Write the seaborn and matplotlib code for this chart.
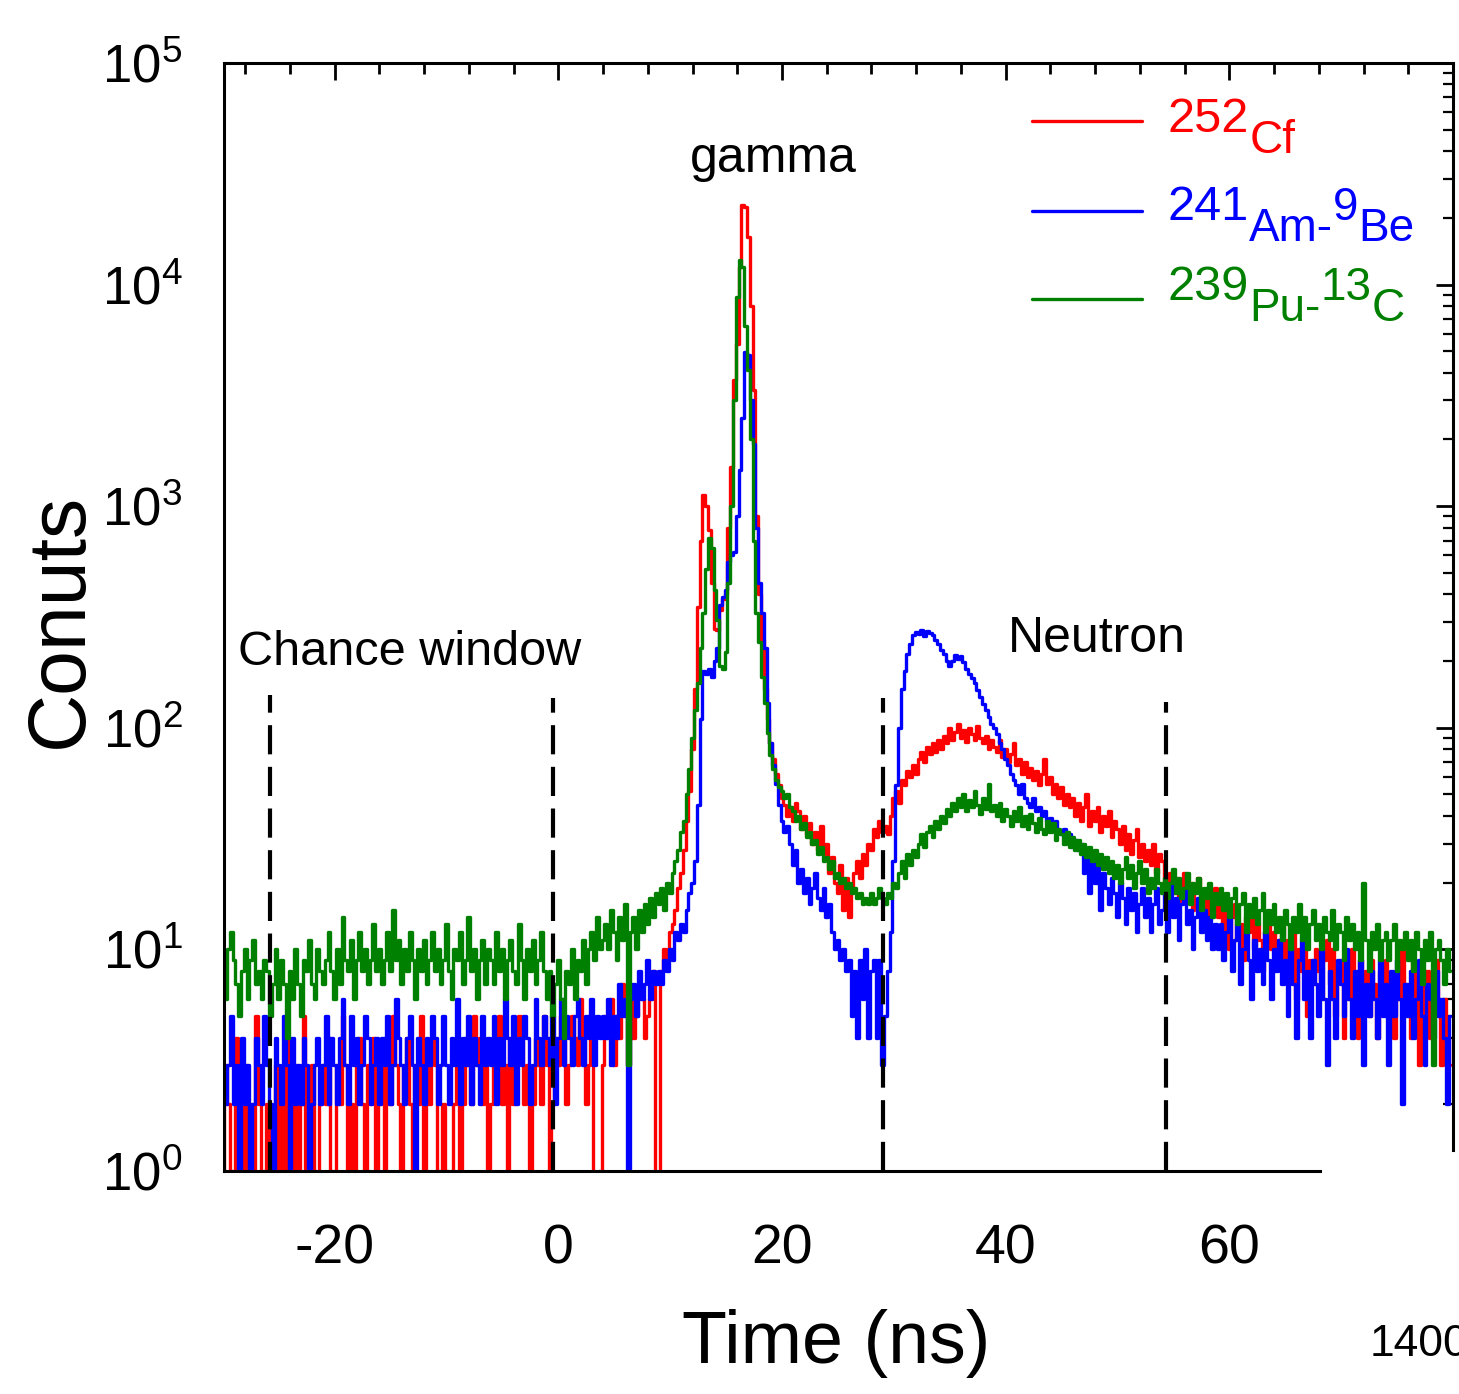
import numpy as np
import pandas as pd
import seaborn as sns
import matplotlib.pyplot as plt
from matplotlib import font_manager
from matplotlib.ticker import FixedLocator, LogLocator, NullFormatter

# datos: cuentas por canal de tiempo (0.25 ns)
t = np.arange(-31, 80, 0.25)

cf252 = [
    3, 0, 2, 1, 0, 3, 2, 1, 0, 4, 2, 1, 3, 0, 2, 1, 5, 2, 0, 1,
    2, 0, 1, 3, 0, 2, 1, 4, 2, 0, 3, 1, 2, 5, 0, 2, 3, 1, 0, 2,
    3, 2, 4, 1, 0, 3, 2, 5, 3, 1, 2, 0, 3, 4, 2, 1, 3, 2, 4, 1,
    2, 3, 1, 4, 2, 5, 3, 2, 1, 3, 4, 2, 0, 3, 2, 5, 1, 3, 2, 4,
    3, 1, 0, 2, 1, 0, 1, 2, 3, 1, 2, 4, 3, 2, 5, 3, 4, 2, 3, 1,
    2, 4, 3, 5, 2, 3, 1, 4, 2, 3, 5, 4, 2, 3, 1, 2, 4, 3, 2, 5,
    3, 0, 2, 4, 3, 5, 4, 2, 3, 5, 4, 3, 6, 4, 2, 3, 4, 0, 0, 1,
    3, 5, 4, 6, 3, 5, 4, 7, 5, 3, 6, 4, 5, 7, 6, 4, 5, 6, 8, 0,
    0, 8, 10, 9, 12, 13, 15, 19, 22, 28, 38, 52, 80, 150, 350, 700, 1120, 1000, 780, 450,
    280, 275, 340, 380, 400, 800, 1500, 3700, 5400, 12000, 22800, 22500, 16400, 8000, 3350, 900, 400, 250, 150, 110,
    85, 72, 62, 55, 48, 45, 40, 44, 38, 46, 42, 35, 40, 33, 37, 30, 34, 28, 36, 27,
    30, 22, 26, 20, 18, 24, 15, 21, 14, 19, 22, 25, 21, 27, 24, 30, 28, 35, 32, 38,
    34, 36, 33, 40, 48, 52, 46, 58, 55, 64, 60, 68, 62, 72, 78, 70, 82, 76, 85, 78,
    88, 80, 92, 85, 100, 88, 96, 104, 90, 98, 86, 100, 94, 88, 102, 90, 85, 92, 80, 88,
    82, 78, 88, 74, 80, 70, 76, 85, 68, 72, 62, 70, 60, 66, 58, 64, 55, 62, 72, 56,
    60, 50, 56, 48, 54, 45, 50, 44, 48, 40, 46, 38, 44, 50, 36, 42, 38, 44, 34, 40,
    36, 42, 32, 38, 35, 30, 36, 28, 33, 27, 31, 35, 26, 30, 25, 28, 24, 30, 22, 27,
    25, 20, 17, 22, 18, 21, 16, 19, 22, 17, 20, 15, 19, 21, 16, 18, 13, 17, 15, 19,
    14, 16, 12, 15, 10, 14, 16, 11, 13, 9, 14, 12, 15, 10, 13, 11, 8, 12, 14, 10,
    12, 9, 11, 13, 8, 11, 9, 12, 6, 10, 8, 11, 5, 9, 7, 10, 8, 6, 9, 11,
    7, 10, 5, 8, 9, 4, 8, 6, 10, 7, 4, 9, 6, 8, 5, 9, 7, 4, 8, 6,
    9, 5, 7, 4, 8, 6, 10, 5, 7, 4, 9, 6, 3, 7, 5, 8, 4, 6, 9, 5,
    3, 6, 4, 3,
]

ambe = [
    3, 2, 4, 0, 3, 2, 3, 5, 2, 3, 1, 4, 2, 3, 0, 2, 4, 3, 2, 5,
    3, 2, 1, 4, 3, 2, 5, 3, 0, 4, 2, 3, 2, 4, 3, 0, 2, 3, 4, 2,
    3, 5, 2, 4, 3, 2, 4, 6, 3, 2, 5, 3, 4, 2, 3, 5, 4, 2, 3, 4,
    2, 4, 3, 5, 2, 3, 6, 4, 3, 2, 4, 5, 3, 0, 4, 3, 2, 4, 3, 5,
    4, 2, 3, 5, 3, 2, 4, 3, 6, 2, 4, 3, 5, 2, 4, 3, 2, 5, 3, 4,
    3, 5, 2, 4, 3, 6, 4, 3, 5, 2, 4, 3, 5, 4, 2, 3, 6, 4, 3, 5,
    4, 3, 5, 2, 4, 6, 3, 5, 4, 3, 5, 6, 4, 3, 5, 4, 6, 3, 5, 4,
    5, 4, 6, 3, 5, 4, 7, 5, 6, 0, 6, 7, 5, 8, 6, 7, 9, 6, 8, 7,
    8, 7, 9, 8, 10, 9, 12, 11, 13, 12, 15, 18, 20, 25, 45, 110, 180, 175, 185, 170,
    200, 230, 360, 390, 420, 560, 600, 620, 900, 1450, 2500, 4950, 4800, 3000, 1900, 800, 450, 330, 230, 130,
    85, 68, 56, 45, 38, 34, 36, 30, 24, 28, 20, 23, 18, 21, 16, 19, 22, 17, 15, 19,
    14, 16, 12, 10, 11, 9, 10, 8, 9, 5, 8, 4, 9, 6, 10, 4, 8, 9, 4, 9,
    3, 5, 8, 12, 25, 55, 100, 150, 180, 215, 240, 262, 270, 265, 275, 260, 272, 268, 262, 250,
    240, 225, 215, 200, 190, 200, 212, 205, 210, 198, 185, 175, 168, 160, 148, 137, 128, 120, 112, 104,
    100, 94, 85, 80, 72, 68, 62, 58, 55, 50, 56, 48, 46, 44, 48, 42, 44, 40, 42, 38,
    39, 36, 38, 34, 33, 35, 31, 33, 29, 31, 28, 30, 22, 28, 18, 26, 20, 24, 15, 22,
    19, 16, 21, 18, 14, 20, 17, 13, 19, 15, 18, 12, 16, 19, 14, 17, 12, 16, 19, 13,
    15, 18, 12, 20, 14, 17, 11, 16, 19, 13, 15, 10, 14, 17, 12, 15, 11, 14, 10, 13,
    10, 13, 9, 12, 14, 8, 11, 13, 7, 10, 12, 9, 6, 11, 8, 10, 7, 12, 9, 6,
    10, 8, 11, 7, 9, 5, 10, 7, 4, 9, 11, 6, 8, 4, 9, 7, 5, 10, 6, 3,
    8, 6, 4, 9, 7, 5, 10, 6, 4, 8, 5, 9, 3, 7, 5, 8, 6, 4, 9, 5,
    7, 3, 8, 5, 9, 6, 2, 7, 5, 8, 4, 6, 9, 5, 3, 7, 6, 4, 8, 5,
    6, 4, 2, 5,
]

puc = [
    6, 9, 7, 11, 8, 6, 10, 12, 9, 7, 5, 8, 10, 6, 9, 11, 7, 8, 6, 9,
    8, 5, 7, 10, 6, 9, 7, 4, 8, 6, 10, 7, 5, 9, 8, 11, 7, 6, 10, 8,
    7, 9, 12, 8, 6, 10, 7, 14, 9, 8, 11, 6, 9, 12, 8, 10, 7, 9, 13, 8,
    10, 7, 9, 12, 8, 15, 9, 11, 7, 10, 8, 12, 9, 6, 10, 8, 11, 7, 9, 12,
    8, 10, 7, 9, 13, 8, 6, 10, 9, 12, 7, 9, 14, 8, 10, 6, 9, 11, 7, 10,
    9, 7, 12, 8, 10, 6, 9, 11, 8, 7, 13, 9, 6, 10, 8, 11, 7, 9, 12, 8,
    6, 8, 5, 7, 9, 6, 4, 8, 7, 10, 6, 9, 8, 11, 7, 10, 12, 9, 14, 10,
    11, 13, 10, 15, 12, 9, 14, 11, 16, 3, 12, 14, 10, 15, 12, 16, 13, 17, 14, 18,
    16, 19, 15, 20, 18, 22, 25, 28, 34, 38, 50, 65, 90, 120, 160, 230, 330, 520, 720, 650,
    420, 305, 190, 185, 220, 450, 1000, 3000, 8800, 12900, 12000, 6500, 4100, 2000, 700, 330, 245, 170, 130, 95,
    75, 65, 58, 54, 52, 48, 50, 44, 42, 38, 40, 35, 37, 32, 34, 30, 31, 27, 29, 25,
    26, 23, 25, 21, 22, 20, 21, 19, 20, 18, 19, 17, 18, 16, 17, 16, 18, 16, 17, 19,
    17, 16, 18, 17, 20, 19, 22, 25, 21, 27, 24, 28, 26, 30, 33, 29, 34, 36, 32, 38,
    35, 40, 37, 43, 40, 46, 42, 48, 44, 50, 42, 47, 44, 52, 45, 41, 48, 43, 56, 42,
    45, 40, 46, 38, 43, 40, 36, 42, 38, 44, 36, 40, 35, 41, 37, 34, 39, 35, 33, 38,
    34, 37, 31, 35, 33, 30, 34, 29, 32, 28, 31, 27, 30, 26, 29, 25, 28, 24, 27, 23,
    26, 22, 25, 21, 24, 20, 23, 26, 21, 24, 19, 22, 25, 20, 23, 18, 21, 19, 23, 20,
    18, 21, 17, 20, 23, 18, 21, 17, 19, 22, 16, 20, 18, 21, 15, 19, 17, 20, 14, 18,
    16, 19, 15, 18, 14, 17, 19, 13, 16, 18, 12, 16, 14, 17, 13, 15, 18, 12, 15, 13,
    16, 12, 14, 11, 15, 13, 10, 14, 12, 16, 11, 14, 10, 13, 15, 11, 13, 10, 14, 12,
    11, 15, 10, 13, 12, 9, 14, 11, 13, 10, 12, 9, 20, 11, 8, 12, 10, 13, 9, 11,
    12, 9, 11, 13, 8, 11, 10, 12, 9, 11, 8, 12, 10, 7, 11, 9, 12, 3, 10, 11,
    9, 7, 10, 8,
]

sources = ["252Cf", "241Am-9Be", "239Pu-13C"]
colors = ["#ff0000", "#0000ff", "#008000"]
# partes de la etiqueta: (texto, desplazamiento vertical en pt)
label_parts = [
    [("252", 0), ("Cf", -15)],
    [("241", 0), ("Am-", -15), ("9", 15), ("Be", -15)],
    [("239", 0), ("Pu-", -15), ("13", 15), ("C", -15)],
]
# limites de las ventanas (ns) y altura de las lineas discontinuas
window_edges = [-25.8, -0.47, 28.99, 54.3]
window_tops = [141, 136, 136, 131]

df = pd.concat([pd.DataFrame({"time": t, "counts": c, "source": s})
                for c, s in zip([cf252, ambe, puc], sources)], ignore_index=True)

# estilo y fuentes
sns.set_style("white")
names = {f.name for f in font_manager.fontManager.ttflist}
narrow = "Liberation Sans Narrow" if "Liberation Sans Narrow" in names else "Liberation Sans"
plt.rcParams["font.family"] = [narrow, "DejaVu Sans"]
plt.rcParams["mathtext.fontset"] = "custom"
plt.rcParams["mathtext.rm"] = narrow
plt.rcParams["mathtext.default"] = "regular"
plt.rcParams["axes.unicode_minus"] = False
plt.rcParams["axes.edgecolor"] = "black"
plt.rcParams["text.color"] = "black"
plt.rcParams["axes.labelcolor"] = "black"
plt.rcParams["xtick.color"] = "black"
plt.rcParams["ytick.color"] = "black"

fig = plt.figure(figsize=(14.59, 13.94), dpi=100)
ax = fig.add_axes([0.1535, 0.16, 0.8424, 0.7948])

sns.lineplot(data=df, x="time", y="counts", hue="source", hue_order=sources,
             palette=dict(zip(sources, colors)), estimator=None, drawstyle="steps-mid",
             lw=2.4, legend=False, ax=ax)
ax.set_yscale("log")
ax.set_xlim(-29.9, 80.0)
ax.set_ylim(1, 1e5)

# ventanas
ax.vlines(window_edges, 1, window_tops, colors="black", linestyles=[(0, (7, 3))], lw=3)

# ejes y ticks
ax.xaxis.set_major_locator(FixedLocator([-20, 0, 20, 40, 60]))
ax.xaxis.set_minor_locator(FixedLocator([v for v in range(-28, 69, 4) if v % 20]))
ax.yaxis.set_minor_locator(LogLocator(base=10, subs=np.arange(2, 10), numticks=20))
ax.yaxis.set_minor_formatter(NullFormatter())
ax.tick_params(axis="x", which="major", direction="out", length=12, width=2, labelsize=40, pad=26)
ax.tick_params(axis="x", which="minor", direction="out", length=8, width=2)
ax.tick_params(axis="y", which="major", direction="out", length=10, width=2, labelsize=38, pad=20)
ax.tick_params(axis="y", which="minor", direction="out", length=6, width=1.6)
ax.spines["top"].set_visible(False)
ax.spines["right"].set_visible(False)
ax.spines["bottom"].set_bounds(-29.9, 68.1)
for s in ["left", "bottom"]:
    ax.spines[s].set_linewidth(2.2)

top = ax.secondary_xaxis("top")
top.set_xticks([-20, 0, 20, 40, 60])
top.xaxis.set_minor_locator(FixedLocator([v for v in range(-28, 81, 4) if v % 20]))
top.tick_params(which="major", direction="in", length=12, width=2, labeltop=False)
top.tick_params(which="minor", direction="in", length=8, width=2)
top.spines["top"].set_linewidth(2.2)

right = ax.secondary_yaxis("right")
right.set_yticks([10, 100, 1000, 1e4, 1e5])
right.yaxis.set_minor_locator(LogLocator(base=10, subs=np.arange(2, 10), numticks=20))
right.yaxis.set_minor_formatter(NullFormatter())
right.tick_params(which="major", direction="in", length=12, width=2, labelright=False)
right.tick_params(which="minor", direction="in", length=7, width=1.6)
right.spines["right"].set_linewidth(2.2)
right.spines["right"].set_bounds(1.24, 1e5)

ax.set_xlabel("Time (ns)", fontsize=53)
ax.xaxis.set_label_coords(0.498, -0.125)
ax.set_ylabel("Conuts", fontsize=58, fontfamily="Liberation Sans")
ax.yaxis.set_label_coords(-0.102, 0.497)

# anotaciones
ax.text(19.2, 10 ** 4.508, "gamma", ha="center", va="baseline", fontsize=36)
ax.text(-28.66, 192, "Chance window", ha="left", va="baseline", fontsize=35)
ax.text(40.2, 220, "Neutron", ha="left", va="baseline", fontsize=36)

# leyenda manual (numeros masicos con el simbolo desplazado abajo)
line_y = [0.9477, 0.8664, 0.787]
text_y = [0.9377, 0.8583, 0.7861]
for parts, c, ly, ty in zip(label_parts, colors, line_y, text_y):
    ax.plot([0.6574, 0.747], [ly, ly], transform=ax.transAxes, color=c, lw=2.4)
    prev = ax.text(0.768, ty, parts[0][0], transform=ax.transAxes, color=c,
                   fontsize=35, ha="left", va="baseline")
    for txt, dy in parts[1:]:
        prev = ax.annotate(txt, xy=(1, 0), xycoords=prev, xytext=(0, dy),
                           textcoords="offset points", color=c, fontsize=33,
                           ha="left", va="bottom")

fig.text(0.939, 0.027, "14000", fontsize=32, ha="left", va="baseline")

fig.savefig("out.png", dpi=100)
